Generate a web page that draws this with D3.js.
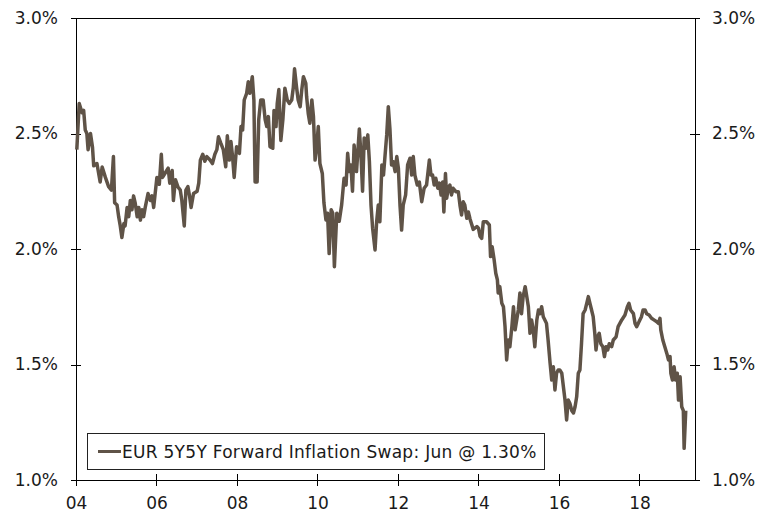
<!DOCTYPE html>
<html>
<head>
<meta charset="utf-8">
<script src="https://cdn.jsdelivr.net/npm/d3@7"></script>
<style>
  body { margin: 0; background: #fff; }
  text { font-family: "DejaVu Sans", Verdana, sans-serif; fill: #1a1a1a; }
</style>
</head>
<body>
<div id="chart"></div>
<script>
// data (decimal year, % level)
const years = [
  2004.02,2004.08,2004.15,2004.19,2004.23,2004.27,2004.30,2004.36,2004.41,2004.44,2004.52,2004.60,2004.65,2004.73,2004.81,2004.88,2004.93,2004.96,
  2005.02,2005.06,2005.10,2005.14,2005.19,2005.22,2005.27,2005.31,2005.35,2005.39,2005.43,2005.47,2005.52,2005.56,2005.60,2005.64,2005.68,2005.72,2005.79,2005.85,2005.89,2005.93,
  2006.01,2006.07,2006.12,2006.15,2006.22,2006.29,2006.33,2006.39,2006.42,2006.47,2006.53,2006.59,2006.63,2006.69,2006.73,2006.78,2006.82,2006.86,2006.92,
  2007.01,2007.05,2007.09,2007.15,2007.20,2007.25,2007.33,2007.39,2007.45,2007.50,2007.54,2007.60,2007.66,2007.72,2007.76,2007.81,2007.85,2007.89,2007.93,2007.99,
  2008.06,2008.10,2008.14,2008.18,2008.24,2008.28,2008.32,2008.38,2008.42,2008.45,2008.50,2008.54,2008.59,2008.65,2008.70,2008.74,2008.78,2008.82,2008.89,2008.92,2008.97,
  2009.00,2009.04,2009.09,2009.14,2009.19,2009.25,2009.30,2009.36,2009.40,2009.43,2009.48,2009.52,2009.57,2009.61,2009.65,2009.71,2009.73,2009.77,2009.81,2009.86,2009.90,2009.94,2009.98,
  2010.02,2010.06,2010.12,2010.16,2010.21,2010.25,2010.29,2010.34,2010.38,2010.42,2010.48,2010.54,2010.60,2010.66,2010.71,2010.75,2010.79,2010.83,2010.87,2010.91,2010.97,
  2011.04,2011.08,2011.12,2011.16,2011.20,2011.25,2011.29,2011.33,2011.37,2011.43,2011.47,2011.51,2011.55,2011.60,2011.64,2011.68,2011.72,2011.76,2011.80,2011.84,2011.88,2011.93,2011.97,
  2012.01,2012.05,2012.09,2012.13,2012.19,2012.24,2012.30,2012.34,2012.38,2012.42,2012.48,2012.53,2012.59,2012.65,2012.71,2012.78,2012.82,2012.86,2012.90,2012.94,2012.99,
  2013.03,2013.07,2013.11,2013.14,2013.18,2013.21,2013.25,2013.29,2013.33,2013.37,2013.44,2013.50,2013.54,2013.58,2013.62,2013.66,2013.71,2013.75,2013.79,2013.87,2013.96,
  2014.00,2014.04,2014.08,2014.12,2014.20,2014.27,2014.30,2014.34,2014.39,2014.43,2014.47,2014.49,2014.53,2014.58,2014.62,2014.66,2014.70,2014.74,2014.78,2014.83,2014.87,2014.91,2014.95,2014.99,
  2015.03,2015.07,2015.11,2015.16,2015.20,2015.24,2015.28,2015.32,2015.36,2015.40,2015.45,2015.49,2015.53,2015.57,2015.61,2015.65,2015.69,2015.73,2015.78,2015.82,2015.86,2015.90,2015.94,2015.98,
  2016.02,2016.07,2016.11,2016.15,2016.19,2016.23,2016.27,2016.32,2016.36,2016.40,2016.44,2016.48,2016.52,2016.56,2016.60,2016.65,2016.69,2016.73,2016.77,2016.81,2016.85,2016.89,2016.92,2016.96,
  2017.00,2017.04,2017.09,2017.13,2017.17,2017.21,2017.25,2017.31,2017.35,2017.42,2017.47,2017.56,2017.64,2017.70,2017.74,2017.78,2017.85,2017.89,2017.93,2017.97,
  2018.01,2018.05,2018.09,2018.14,2018.18,2018.24,2018.30,2018.36,2018.43,2018.47,2018.51,2018.53,2018.58,2018.63,2018.68,2018.72,2018.76,2018.78,2018.82,2018.86,2018.90,2018.94,2018.97,
  2019.01,2019.05,2019.09,2019.11,2019.15
];
const swap5y5y = [
  2.43,2.63,2.59,2.60,2.515,2.50,2.43,2.50,2.44,2.36,2.37,2.29,2.355,2.31,2.27,2.255,2.40,2.20,
  2.19,2.14,2.10,2.05,2.11,2.10,2.18,2.14,2.21,2.17,2.23,2.20,2.14,2.18,2.125,2.17,2.14,2.18,2.24,2.21,2.23,2.18,
  2.31,2.28,2.41,2.31,2.33,2.35,2.285,2.34,2.21,2.30,2.27,2.255,2.21,2.10,2.255,2.27,2.23,2.18,2.24,
  2.25,2.285,2.385,2.41,2.38,2.40,2.385,2.37,2.41,2.43,2.486,2.457,2.43,2.356,2.49,2.385,2.465,2.40,2.31,2.443,
  2.414,2.53,2.515,2.645,2.674,2.724,2.674,2.746,2.645,2.29,2.29,2.56,2.645,2.645,2.56,2.53,2.573,2.443,2.436,2.60,2.53,
  2.63,2.69,2.47,2.56,2.696,2.645,2.63,2.645,2.70,2.78,2.70,2.645,2.616,2.69,2.746,2.717,2.66,2.587,2.544,2.645,2.573,2.385,2.443,
  2.53,2.37,2.327,2.20,2.126,2.155,1.98,2.17,2.155,1.923,2.155,2.12,2.19,2.306,2.277,2.414,2.335,2.364,2.25,2.45,2.335,
  2.52,2.407,2.25,2.48,2.436,2.494,2.378,2.19,2.09,1.996,2.118,2.19,2.118,2.364,2.32,2.407,2.494,2.616,2.52,2.364,2.378,2.335,2.40,
  2.35,2.19,2.082,2.19,2.234,2.364,2.393,2.32,2.40,2.32,2.277,2.29,2.205,2.263,2.277,2.385,2.32,2.32,2.277,2.306,2.263,
  2.285,2.234,2.29,2.16,2.327,2.22,2.263,2.277,2.234,2.263,2.248,2.248,2.19,2.147,2.205,2.19,2.133,2.16,2.13,2.085,2.097,
  2.09,2.055,2.046,2.118,2.118,2.104,1.967,2.01,1.952,1.895,1.866,1.81,1.837,1.765,1.75,1.664,1.52,1.606,1.577,1.664,1.75,1.65,1.693,1.736,
  1.81,1.72,1.794,1.837,1.794,1.75,1.635,1.693,1.65,1.577,1.693,1.736,1.72,1.75,1.707,1.693,1.678,1.606,1.505,1.433,1.49,1.39,1.462,1.476,
  1.476,1.462,1.404,1.346,1.26,1.346,1.332,1.30,1.29,1.317,1.36,1.462,1.476,1.59,1.72,1.736,1.765,1.794,1.765,1.736,1.707,1.635,1.563,1.62,
  1.635,1.59,1.577,1.534,1.577,1.563,1.59,1.577,1.606,1.62,1.664,1.693,1.714,1.75,1.765,1.736,1.72,1.678,1.664,1.678,
  1.693,1.707,1.736,1.736,1.72,1.714,1.70,1.693,1.685,1.678,1.70,1.65,1.606,1.577,1.548,1.52,1.534,1.462,1.433,1.49,1.433,1.462,1.346,
  1.447,1.317,1.30,1.137,1.30
];
const yTicks = [1.0, 1.5, 2.0, 2.5, 3.0];
const xTicks = [2004, 2006, 2008, 2010, 2012, 2014, 2016, 2018];
const legendLabel = "EUR 5Y5Y Forward Inflation Swap: Jun @ 1.30%";

// dim
const W = 770, H = 513;
const margin = {top: 18, right: 75, bottom: 33, left: 76},
    width = W - margin.left - margin.right,
    height = H - margin.top - margin.bottom;

const svg = d3.select("#chart")
  .append("svg")
    .attr("width", W)
    .attr("height", H)
  .append("g")
    .attr("transform", `translate(${margin.left},${margin.top})`);

const x = d3.scaleLinear().domain([2004, 2019.38]).range([0, width]);
const y = d3.scaleLinear().domain([1.0, 3.0]).range([height, 0]);

const lineColor = "#5f5347";

// top border
svg.append("line")
  .attr("x1", 0).attr("x2", width).attr("y1", 0).attr("y2", 0)
  .attr("stroke", "#000").attr("stroke-width", 1).attr("shape-rendering", "crispEdges");

// axes, ticks crossing the axis line
function styleAxis(g) {
  g.selectAll("path").attr("stroke", "#000").attr("shape-rendering", "crispEdges");
  g.selectAll(".tick line").attr("stroke", "#000").attr("shape-rendering", "crispEdges");
  g.selectAll("text").style("font-size", "17px").attr("fill", "#1a1a1a");
}

const xAxis = svg.append("g")
  .attr("transform", `translate(0,${height})`)
  .call(d3.axisBottom(x).tickValues(xTicks).tickFormat(d => String(d).slice(2)).tickSizeInner(5).tickSizeOuter(0).tickPadding(12));
xAxis.selectAll(".tick line").attr("y1", -6).attr("y2", 6);
styleAxis(xAxis);

const yLeft = svg.append("g")
  .call(d3.axisLeft(y).tickValues(yTicks).tickFormat(d => d.toFixed(1) + "%").tickSizeOuter(0).tickSize(5).tickPadding(13));
yLeft.selectAll(".tick line").attr("x1", -5).attr("x2", 5);
styleAxis(yLeft);

const yRight = svg.append("g")
  .attr("transform", `translate(${width},0)`)
  .call(d3.axisRight(y).tickValues(yTicks).tickFormat(d => d.toFixed(1) + "%").tickSizeOuter(0).tickSize(5).tickPadding(12));
yRight.selectAll(".tick line").attr("x1", -5).attr("x2", 5);
styleAxis(yRight);

// series
const data = years.map((t, i) => ({t: t, v: swap5y5y[i]}));
svg.append("path")
  .datum(data)
  .attr("fill", "none")
  .attr("stroke", lineColor)
  .attr("stroke-width", 3.5)
  .attr("stroke-linejoin", "round")
  .attr("d", d3.line().x(d => x(d.t)).y(d => y(d.v)));

// legend
const lg = svg.append("g").attr("transform", `translate(${87 - margin.left},${433 - margin.top})`);
lg.append("rect")
  .attr("x", 0.5).attr("y", 0.5).attr("width", 457).attr("height", 36)
  .attr("fill", "#fff").attr("stroke", "#222").attr("stroke-width", 1);
lg.append("line")
  .attr("x1", 11).attr("x2", 34).attr("y1", 18.5).attr("y2", 18.5)
  .attr("stroke", lineColor).attr("stroke-width", 3);
lg.append("text")
  .attr("x", 35).attr("y", 25)
  .style("font-size", "17px")
  .style("letter-spacing", "0.28px")
  .text(legendLabel);
</script>
</body>
</html>
